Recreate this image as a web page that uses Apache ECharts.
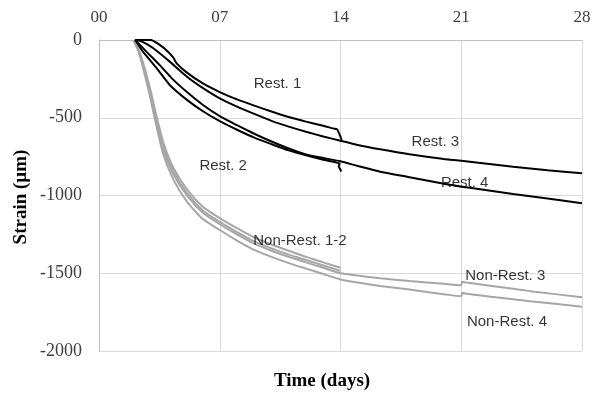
<!DOCTYPE html>
<html><head><meta charset="utf-8">
<script src="https://cdn.jsdelivr.net/npm/echarts@6/dist/echarts.min.js"></script>
<style>html,body{margin:0;padding:0;background:#fff}#c{width:600px;height:393px}</style>
</head><body><div id="c"></div>
<script>
// x ticks (days)
const xTicks = [0, 7, 14, 21, 28];
const yTicks = [0, -500, -1000, -1500, -2000];

// Restrained specimens [day, strain]
const rest1 = [[2.1,0],[3.0,0],[3.5,-30],[4.0,-75],[4.3,-112],[4.5,-150],[5.1,-210],[6.0,-278],[7.0,-335],[8.0,-382],[9.0,-422],[10,-460],[11,-495],[12,-525],[13,-552],[13.6,-570],[13.8,-574],[14.07,-642]];
const rest2 = [[2.1,0],[2.55,-75],[3.35,-182],[4.1,-289],[5.1,-385],[6.05,-460],[7,-522],[8,-577],[9,-628],[10,-670],[11,-710],[12,-742],[13,-770],[13.6,-783],[13.95,-795],[13.9,-810],[14.05,-845]];
const rest3 = [[2.1,0],[2.5,-10],[3.15,-53],[4.1,-139],[5.1,-236],[6.05,-311],[7,-375],[8,-428],[9,-475],[10,-520],[11,-557],[12,-590],[13,-620],[14,-648],[15,-675],[16.3,-703],[18,-735],[20,-765],[21,-776],[22,-790],[24,-815],[26,-838],[28,-857]];
const rest4 = [[2.1,0],[2.75,-75],[3.55,-165],[4.3,-255],[5.1,-335],[6.05,-420],[7,-490],[8,-548],[9,-603],[10,-653],[11,-698],[12,-736],[13,-759],[14,-780],[15,-810],[16.3,-847],[18,-882],[20,-925],[21,-943],[22,-958],[24,-990],[26,-1020],[28,-1050]];

// Non-restrained specimens [day, strain]
const nonRest1 = [[2.0,0],[2.3,-60],[2.67,-190],[3.0,-330],[3.25,-450],[3.73,-660],[4.3,-820],[5.1,-960],[6,-1070],[7,-1145],[8,-1210],[9,-1270],[10,-1315],[11,-1355],[12,-1395],[13,-1430],[14,-1465]];
const nonRest2 = [[2.0,0],[2.3,-65],[2.67,-205],[3.0,-350],[3.25,-470],[3.73,-690],[4.3,-845],[5.1,-985],[6,-1095],[7,-1170],[8,-1235],[9,-1295],[10,-1340],[11,-1380],[12,-1415],[13,-1450],[14,-1485]];
const nonRest3 = [[2.0,0],[2.3,-70],[2.67,-215],[3.0,-365],[3.25,-490],[3.73,-705],[4.3,-860],[5.1,-1000],[6,-1110],[7,-1185],[8,-1250],[9,-1310],[10,-1355],[11,-1395],[12,-1430],[13,-1465],[14,-1500],[15,-1515],[16.3,-1532],[18,-1550],[20,-1568],[21.0,-1577],[21.05,-1555],[21.3,-1560],[23,-1585],[25,-1615],[28,-1655]];
const nonRest4 = [[2.0,0],[2.3,-75],[2.67,-230],[3.0,-385],[3.25,-515],[3.73,-735],[4.3,-895],[5.1,-1040],[6,-1150],[7,-1222],[8,-1290],[9,-1350],[10,-1395],[11,-1435],[12,-1470],[13,-1505],[14,-1540],[15,-1560],[16.3,-1582],[18,-1605],[20,-1635],[21.0,-1648],[21.05,-1625],[21.3,-1632],[23,-1655],[25,-1680],[28,-1715]];

// Annotation labels [day, strain, text]
const labels = [
  [10.35,-283,'Rest. 1'],
  [7.2,-810,'Rest. 2'],
  [19.5,-656,'Rest. 3'],
  [21.2,-920,'Rest. 4'],
  [11.65,-1292,'Non-Rest. 1-2'],
  [23.55,-1517,'Non-Rest. 3'],
  [23.65,-1815,'Non-Rest. 4']
];

const chart = echarts.init(document.getElementById('c'), null, {renderer:'canvas'});
const black = '#000000', grey = '#a6a6a6';
function line(name, data, color){
  return {name, type:'line', data, showSymbol:false, symbol:'none', smooth:0.2,
    lineStyle:{color, width:2}, z: color===black?3:2, silent:true};
}
chart.setOption({
  animation:false,
  grid:{left:99, right:18, top:40, bottom:42},
  xAxis:{type:'value', position:'top', min:0, max:28, interval:7,
    axisLine:{show:true, onZero:false, lineStyle:{color:'#bfbfbf'}},
    axisTick:{show:false},
    axisLabel:{margin:14, color:'#404040', fontFamily:'Liberation Serif', fontSize:17,
      formatter:v=>String(v).padStart(2,'0')},
    splitLine:{show:true, lineStyle:{color:'#d9d9d9'}}},
  yAxis:{type:'value', min:-2000, max:0, interval:500,
    axisLine:{show:true, lineStyle:{color:'#bfbfbf'}},
    axisTick:{show:false},
    axisLabel:{margin:17, color:'#404040', fontFamily:'Liberation Serif', fontSize:18,
      formatter:v=>String(v)},
    splitLine:{show:true, lineStyle:{color:'#d9d9d9'}}},
  graphic:[
    {type:'text', x:0, y:0, style:{text:'Time (days)', x:322, y:381, align:'center', verticalAlign:'middle',
      font:'bold 19px "Liberation Serif"', fill:'#000'}},
    {type:'text', x:21, y:197, rotation:Math.PI/2, style:{text:'Strain (µm)', align:'center', verticalAlign:'middle',
      font:'bold 19px "Liberation Serif"', fill:'#000'}}
  ],
  series:[
    line('Non-Rest. 1', nonRest1, grey),
    line('Non-Rest. 2', nonRest2, grey),
    line('Non-Rest. 3', nonRest3, grey),
    line('Non-Rest. 4', nonRest4, grey),
    line('Rest. 1', rest1, black),
    line('Rest. 2', rest2, black),
    line('Rest. 3', rest3, black),
    line('Rest. 4', rest4, black),
    {type:'scatter', symbolSize:0, silent:true, z:10,
      data:labels.map(l=>({value:[l[0],l[1]], name:l[2]})),
      label:{show:true, position:'inside', formatter:p=>p.name, color:'#000',
        fontFamily:'Liberation Sans', fontSize:15}}
  ]
});
</script></body></html>
